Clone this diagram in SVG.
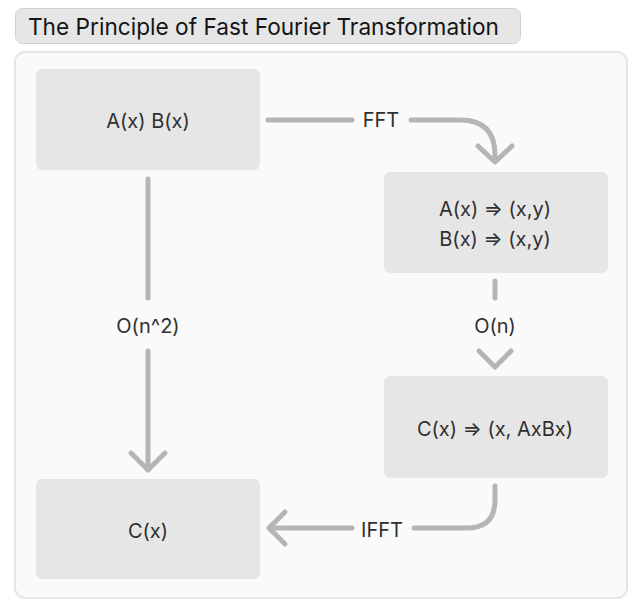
<svg xmlns="http://www.w3.org/2000/svg" width="644" height="611" viewBox="0 0 644 611">
<style>
text{font-family:Inter,"Liberation Sans",sans-serif;fill:#303030;}
.node{fill:#e6e6e6;}
.lbl{font-size:20px;text-anchor:middle;}
.edge{fill:none;stroke:#b5b5b5;stroke-width:5;stroke-linecap:round;stroke-linejoin:round;}
</style>
<rect width="644" height="611" fill="#ffffff"/>
<g id="title">
<rect x="15.5" y="8.5" width="505" height="35" rx="7" fill="#e6e6e6" stroke="#cfcfcf" stroke-width="1"/>
<text x="28" y="35" font-size="23" textLength="471" lengthAdjust="spacingAndGlyphs" style="fill:#151515">The Principle of Fast Fourier Transformation</text>
</g>
<g id="container">
<rect x="15" y="52" width="612" height="546" rx="10" fill="#fafafa" stroke="#e6e6e6" stroke-width="2"/>
</g>
<g id="n1"><rect class="node" x="36" y="69" width="224" height="101" rx="6"/><text class="lbl" x="148" y="128">A(x) B(x)</text></g>
<g id="n2"><rect class="node" x="384" y="172" width="224" height="101" rx="6"/><text class="lbl" x="495" y="216">A(x) ⇒ (x,y)</text><text class="lbl" x="495" y="246">B(x) ⇒ (x,y)</text></g>
<g id="n3"><rect class="node" x="384" y="376" width="224" height="102" rx="6"/><text class="lbl" x="495" y="436">C(x) ⇒ (x, AxBx)</text></g>
<g id="n4"><rect class="node" x="36" y="479" width="224" height="100" rx="6"/><text class="lbl" x="148" y="538">C(x)</text></g>
<g id="connectors">
<path class="edge" d="M268 120 H352"/>
<path class="edge" d="M411 120 H460 Q495 120 495 155 V161"/>
<path class="edge" d="M478 146 L495 162 L512 146"/>
<text class="lbl" x="381" y="127">FFT</text>
<path class="edge" d="M148 179 V298"/>
<path class="edge" d="M148 351 V469"/>
<path class="edge" d="M131 453 L148 470 L165 453"/>
<text class="lbl" x="148" y="333">O(n^2)</text>
<path class="edge" d="M495 281 V298"/>
<path class="edge" d="M479 351 L495 367 L511 351"/>
<text class="lbl" x="495" y="333">O(n)</text>
<path class="edge" d="M495 486 V500 Q495 528 467 528 H414"/>
<path class="edge" d="M352 528 H270"/>
<path class="edge" d="M285 512 L269 528 L285 544"/>
<text class="lbl" x="382" y="537">IFFT</text>
</g>
</svg>
